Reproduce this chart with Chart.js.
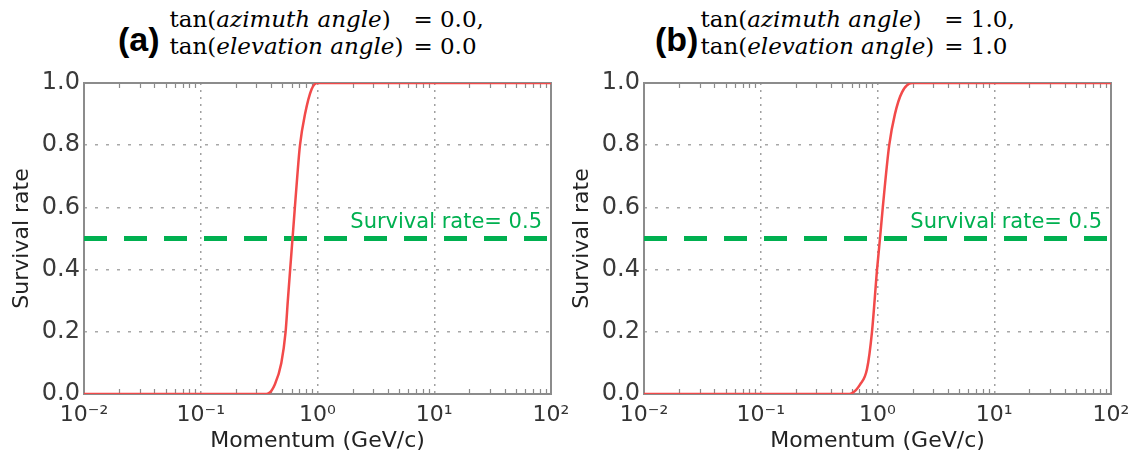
<!DOCTYPE html>
<html>
<head>
<meta charset="utf-8">
<script src="https://cdn.jsdelivr.net/npm/chart.js@4/dist/chart.umd.min.js"></script>
<style>
  html, body { margin: 0; padding: 0; background: #fff; }
  body { width: 1132px; height: 461px; position: relative; overflow: hidden; }
  canvas { position: absolute; top: 0; }
  .title { position: absolute; display: flex; align-items: flex-start; color: #000; white-space: pre; }
  .lab { font-family: "Liberation Sans", Arial, sans-serif; font-weight: bold; font-size: 34px; line-height: 40px; margin-top: 13px; }
  .math { display: grid; grid-template-columns: auto auto; column-gap: 10px; font-family: "DejaVu Serif", serif; font-size: 23px; line-height: 27px; }
  .math i { font-style: italic; }
</style>
</head>
<body>
<div class="title" id="titleA" style="left:118px; top:6px;"></div>
<div class="title" id="titleB" style="left:655px; top:6px;"></div>
<canvas id="chartA" width="580" height="461" style="left:0px;"></canvas>
<canvas id="chartB" width="572" height="461" style="left:560px;"></canvas>
<script>
// ---------------- data ----------------
const panelLabels = ['(a)', '(b)'];
const azimuthTan = ['0.0', '1.0'];
const elevationTan = ['0.0', '1.0'];

const xTickValues = [0.01, 0.1, 1, 10, 100];
const xTickLabels = ['10\u207B\u00B2', '10\u207B\u00B9', '10\u2070', '10\u00B9', '10\u00B2'];
const yTickLabels = ['0.0', '0.2', '0.4', '0.6', '0.8', '1.0'];

const momentumA = [0.01, 0.2, 0.35, 0.38, 0.43, 0.49, 0.533, 0.557, 0.583, 0.611, 0.640, 0.671, 0.708, 0.782, 0.89, 1.0, 1.5, 10, 100];
const survivalA = [0.0, 0.0, 0.0, 0.002, 0.03, 0.10, 0.20, 0.30, 0.40, 0.50, 0.60, 0.70, 0.80, 0.90, 0.98, 1.0, 1.0, 1.0, 1.0];

const momentumB = [0.01, 0.3, 0.55, 0.60, 0.708, 0.813, 0.897, 0.991, 1.05, 1.11, 1.26, 1.41, 1.62, 1.98, 3, 10, 100];
const survivalB = [0.0, 0.0, 0.0, 0.002, 0.03, 0.08, 0.20, 0.40, 0.50, 0.60, 0.80, 0.90, 0.97, 1.0, 1.0, 1.0, 1.0];

const thresholdX = [0.01, 100];
const thresholdY = [0.5, 0.5];
const thresholdLabel = 'Survival rate= 0.5';

const xTitle = 'Momentum (GeV/c)';
const yTitle = 'Survival rate';

// ---------------- titles ----------------
function buildTitle(id, i, gap) {
  const el = document.getElementById(id);
  const lab = document.createElement('span');
  lab.className = 'lab';
  lab.textContent = panelLabels[i];
  const math = document.createElement('div');
  math.className = 'math';
  math.style.marginLeft = gap + 'px';
  math.innerHTML =
    '<span>tan(<i>azimuth angle</i>)</span><span>= ' + azimuthTan[i] + ',</span>' +
    '<span>tan(<i>elevation angle</i>)</span><span>= ' + elevationTan[i] + '</span>';
  el.appendChild(lab);
  el.appendChild(math);
}
buildTitle('titleA', 0, 10);
buildTitle('titleB', 1, 2);

// ---------------- plugins ----------------
const framePlugin = {
  id: 'frame',
  beforeDatasetsDraw(chart) {
    const {ctx, chartArea: a, scales: {x}} = chart;
    ctx.save();
    ctx.strokeStyle = '#8a8a8a';
    ctx.lineWidth = 1.2;
    ctx.beginPath();
    for (let d = 0; d < xTickValues.length - 1; d++) {
      for (let m = 2; m <= 9; m++) {
        const px = Math.round(x.getPixelForValue(xTickValues[d] * m)) + 0.5;
        ctx.moveTo(px, a.bottom); ctx.lineTo(px, a.bottom - 5);
        ctx.moveTo(px, a.top); ctx.lineTo(px, a.top + 5);
      }
    }
    ctx.stroke();
    ctx.strokeStyle = '#8c8c8c';
    ctx.lineWidth = 2;
    ctx.strokeRect(a.left, a.top, a.right - a.left, a.bottom - a.top);
    ctx.restore();
  },
  afterDatasetsDraw(chart) {
    const {ctx, scales: {x, y}} = chart;
    ctx.save();
    ctx.font = '21px "DejaVu Sans"';
    ctx.fillStyle = '#00b050';
    ctx.textAlign = 'right';
    ctx.textBaseline = 'alphabetic';
    ctx.fillText(thresholdLabel, x.getPixelForValue(thresholdX[1]) - 9, y.getPixelForValue(thresholdY[0]) - 11);
    ctx.restore();
  }
};

function makeChart(canvasId, xs, ys, rightPad) {
  const ctx = document.getElementById(canvasId).getContext('2d');
  return new Chart(ctx, {
    type: 'line',
    data: {
      datasets: [
        {
          data: xs.map((v, i) => ({x: v, y: ys[i]})),
          borderColor: '#f24a4a',
          borderWidth: 2.5,
          pointRadius: 0,
          cubicInterpolationMode: 'monotone',
          order: 1
        },
        {
          data: thresholdX.map((v, i) => ({x: v, y: thresholdY[i]})),
          borderColor: '#00b050',
          borderWidth: 5,
          borderDash: [23, 17],
          pointRadius: 0,
          order: 2
        }
      ]
    },
    options: {
      responsive: false,
      animation: false,
      devicePixelRatio: 1,
      layout: {padding: {top: 83, left: 0, right: rightPad, bottom: 0}},
      plugins: {legend: {display: false}, tooltip: {enabled: false}},
      scales: {
        x: {
          type: 'logarithmic',
          min: xTickValues[0],
          max: xTickValues[xTickValues.length - 1],
          afterBuildTicks(s) { s.ticks = xTickValues.map(v => ({value: v})); },
          afterFit(s) { s.height = 67; s.paddingLeft = 0; s.paddingRight = 0; },
          ticks: {
            autoSkip: false,
            maxRotation: 0,
            padding: 8,
            color: '#333',
            font: {family: 'DejaVu Sans', size: 22},
            callback(v) { const k = xTickValues.findIndex(t => Math.abs(t - v) < t * 1e-6); return k >= 0 ? xTickLabels[k] : ''; }
          },
          grid: {color: '#a0a0a0', lineWidth: 1.5, drawTicks: false},
          border: {display: false, dash: [2, 5]},
          title: {display: true, text: xTitle, color: '#222', font: {family: 'DejaVu Sans', size: 22}, padding: {top: 0, bottom: 7}}
        },
        y: {
          min: 0,
          max: 1,
          afterBuildTicks(s) { s.ticks = yTickLabels.map(t => ({value: parseFloat(t)})); },
          afterFit(s) { s.width = 84; },
          ticks: {
            padding: 4,
            color: '#3a3a3a',
            font: {family: 'DejaVu Sans', size: 24},
            callback(v, i) { return yTickLabels[i]; }
          },
          grid: {color: '#a8a8a8', lineWidth: 1.5, drawTicks: false},
          border: {display: false, dash: [3, 8]},
          title: {display: true, text: yTitle, color: '#222', font: {family: 'DejaVu Sans', size: 22}, padding: {top: 9, bottom: 0}}
        }
      }
    },
    plugins: [framePlugin]
  });
}

makeChart('chartA', momentumA, survivalA, 29);
makeChart('chartB', momentumB, survivalB, 21);
</script>
</body>
</html>
